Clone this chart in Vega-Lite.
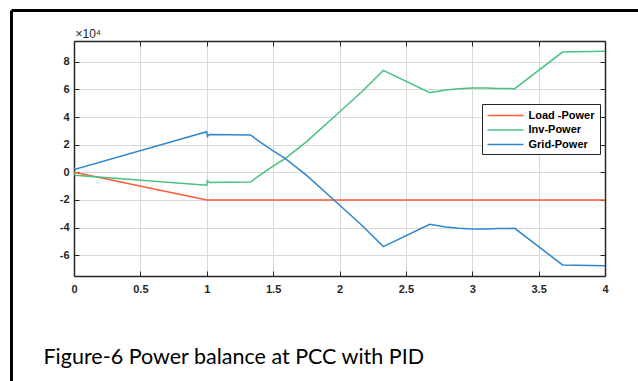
{
  "$schema": "https://vega.github.io/schema/vega-lite/v6.json",
  "width": 531,
  "height": 235,
  "autosize": {"type": "none"},
  "padding": {"left": 74, "top": 41, "right": 33, "bottom": 105},
  "background": "white",
  "config": {"view": {"stroke": null}, "font": "Liberation Sans"},
  "data": {
    "values": [
      {"s": "Load -Power", "t": 0, "p": 0},
      {"s": "Load -Power", "t": 1, "p": -2},
      {"s": "Load -Power", "t": 4, "p": -2},
      {"s": "Inv-Power", "t": 0, "p": -0.05},
      {"s": "Inv-Power", "t": 0.01, "p": -0.22},
      {"s": "Inv-Power", "t": 0.999, "p": -0.94},
      {"s": "Inv-Power", "t": 1.005, "p": -0.6},
      {"s": "Inv-Power", "t": 1.02, "p": -0.74},
      {"s": "Inv-Power", "t": 1.33, "p": -0.7},
      {"s": "Inv-Power", "t": 1.4, "p": -0.2},
      {"s": "Inv-Power", "t": 1.5, "p": 0.45},
      {"s": "Inv-Power", "t": 1.59, "p": 0.99},
      {"s": "Inv-Power", "t": 1.75, "p": 2.2},
      {"s": "Inv-Power", "t": 2, "p": 4.36},
      {"s": "Inv-Power", "t": 2.17, "p": 5.85},
      {"s": "Inv-Power", "t": 2.33, "p": 7.37},
      {"s": "Inv-Power", "t": 2.68, "p": 5.76},
      {"s": "Inv-Power", "t": 2.8, "p": 5.95},
      {"s": "Inv-Power", "t": 2.9, "p": 6.05},
      {"s": "Inv-Power", "t": 3, "p": 6.1},
      {"s": "Inv-Power", "t": 3.1, "p": 6.1},
      {"s": "Inv-Power", "t": 3.2, "p": 6.07},
      {"s": "Inv-Power", "t": 3.32, "p": 6.05},
      {"s": "Inv-Power", "t": 3.68, "p": 8.7},
      {"s": "Inv-Power", "t": 4, "p": 8.75},
      {"s": "Grid-Power", "t": 0, "p": 0.3},
      {"s": "Grid-Power", "t": 0.01, "p": 0.22},
      {"s": "Grid-Power", "t": 0.999, "p": 2.94},
      {"s": "Grid-Power", "t": 1.005, "p": 2.6},
      {"s": "Grid-Power", "t": 1.02, "p": 2.74},
      {"s": "Grid-Power", "t": 1.33, "p": 2.7},
      {"s": "Grid-Power", "t": 1.4, "p": 2.2},
      {"s": "Grid-Power", "t": 1.5, "p": 1.55},
      {"s": "Grid-Power", "t": 1.59, "p": 1.01},
      {"s": "Grid-Power", "t": 1.75, "p": -0.2},
      {"s": "Grid-Power", "t": 2, "p": -2.36},
      {"s": "Grid-Power", "t": 2.17, "p": -3.85},
      {"s": "Grid-Power", "t": 2.33, "p": -5.37},
      {"s": "Grid-Power", "t": 2.68, "p": -3.76},
      {"s": "Grid-Power", "t": 2.8, "p": -3.95},
      {"s": "Grid-Power", "t": 2.9, "p": -4.05},
      {"s": "Grid-Power", "t": 3, "p": -4.1},
      {"s": "Grid-Power", "t": 3.1, "p": -4.1},
      {"s": "Grid-Power", "t": 3.2, "p": -4.07},
      {"s": "Grid-Power", "t": 3.32, "p": -4.05},
      {"s": "Grid-Power", "t": 3.68, "p": -6.7},
      {"s": "Grid-Power", "t": 4, "p": -6.75}
    ]
  },
  "layer": [
    {
      "mark": {"type": "line", "strokeWidth": 1.5, "clip": true},
      "encoding": {
        "x": {
          "field": "t", "type": "quantitative",
          "scale": {"domain": [0, 4], "nice": false, "zero": false},
          "axis": {
            "orient": "bottom",
            "values": [0, 0.5, 1, 1.5, 2, 2.5, 3, 3.5, 4],
            "labelExpr": "'' + datum.value",
            "labelFont": "Liberation Sans", "labelFontSize": 11, "labelFontWeight": "bold",
            "labelColor": "#262626", "labelPadding": 12, "labelFlush": false, "labelOverlap": false,
            "tickSize": -5, "tickColor": "#262626", "tickWidth": 1,
            "domainColor": "#262626", "domainWidth": 1.5,
            "grid": true, "gridColor": "#D9D9D9", "gridWidth": 1,
            "title": "Figure-6 Power balance at PCC with PID",
            "titleFont": "Lato", "titleFontSize": 21.5, "titleFontWeight": "normal", "titleColor": "#000000",
            "titleX": -31, "titleY": 87, "titleAlign": "left", "titleAnchor": "start", "titleBaseline": "alphabetic"
          }
        },
        "y": {
          "field": "p", "type": "quantitative",
          "scale": {"domain": [-7.5, 9.5], "nice": false, "zero": false},
          "axis": {
            "orient": "left",
            "values": [-6, -4, -2, 0, 2, 4, 6, 8],
            "labelExpr": "'' + datum.value",
            "labelFont": "Liberation Sans", "labelFontSize": 11, "labelFontWeight": "bold",
            "labelColor": "#262626", "labelPadding": 10,
            "tickSize": -5, "tickColor": "#262626", "tickWidth": 1,
            "domainColor": "#262626", "domainWidth": 1.5,
            "grid": true, "gridColor": "#D9D9D9", "gridWidth": 1,
            "title": "×10⁴",
            "titleFont": "Liberation Sans", "titleFontSize": 12, "titleFontWeight": "normal", "titleColor": "#262626",
            "titleAngle": 0, "titleX": 1, "titleY": -4, "titleAlign": "left", "titleBaseline": "alphabetic"
          }
        },
        "color": {
          "field": "s", "type": "nominal",
          "scale": {"domain": ["Load -Power", "Inv-Power", "Grid-Power"], "range": ["#FF5A36", "#47C27F", "#2E86CF"]},
          "legend": {
            "orient": "none", "legendX": 408, "legendY": 63, "title": null,
            "symbolType": "M-3,0H3", "symbolSize": 144, "symbolStrokeWidth": 1.5, "symbolOffset": 12,
            "labelFont": "Liberation Sans", "labelFontSize": 11, "labelFontWeight": "bold", "labelColor": "#000000",
            "labelOffset": 16, "padding": 4.5, "rowPadding": 2.5,
            "strokeColor": "#262626", "fillColor": "white"
          }
        }
      }
    },
    {
      "mark": {"type": "line", "strokeOpacity": 0},
      "encoding": {
        "x": {
          "field": "t", "type": "quantitative",
          "scale": {"domain": [0, 4], "nice": false, "zero": false},
          "axis": {
            "orient": "top", "values": [0, 0.5, 1, 1.5, 2, 2.5, 3, 3.5, 4],
            "labels": false, "grid": false, "title": null,
            "tickSize": -5, "tickColor": "#262626", "tickWidth": 1,
            "domainColor": "#262626", "domainWidth": 1.5
          }
        },
        "y": {
          "field": "p", "type": "quantitative",
          "scale": {"domain": [-7.5, 9.5], "nice": false, "zero": false},
          "axis": {
            "orient": "right", "values": [-6, -4, -2, 0, 2, 4, 6, 8],
            "labels": false, "grid": false, "title": null,
            "tickSize": -5, "tickColor": "#262626", "tickWidth": 1,
            "domainColor": "#262626", "domainWidth": 1.5
          }
        },
        "detail": {"field": "s", "type": "nominal"}
      }
    },
    {
      "mark": {"type": "line", "strokeOpacity": 0},
      "encoding": {
        "x": {
          "field": "t", "type": "quantitative",
          "scale": {"domain": [0, 4], "nice": false, "zero": false, "range": [-63, 620]},
          "axis": {
            "orient": "top", "offset": 31, "labels": false, "ticks": false, "grid": false, "title": null,
            "domainColor": "#000000", "domainWidth": 3
          }
        },
        "y": {
          "field": "p", "type": "quantitative",
          "scale": {"domain": [-7.5, 9.5], "nice": false, "zero": false, "range": [380, -31]},
          "axis": {
            "orient": "left", "offset": 63, "labels": false, "ticks": false, "grid": false, "title": null,
            "domainColor": "#000000", "domainWidth": 3
          }
        },
        "detail": {"field": "s", "type": "nominal"}
      }
    }
  ],
  "resolve": {"scale": {"x": "independent", "y": "independent"}}
}
